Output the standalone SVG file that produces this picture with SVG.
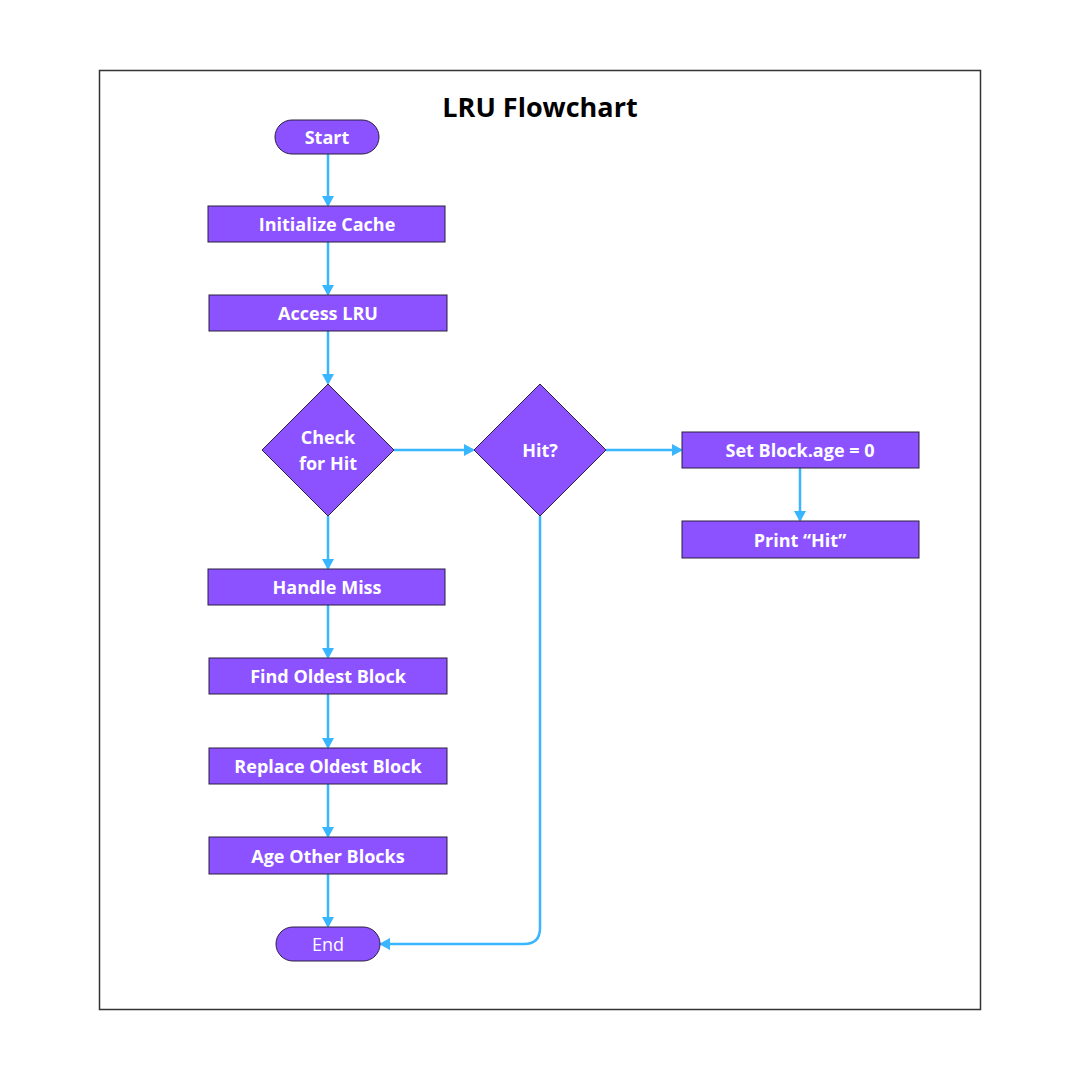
<svg xmlns="http://www.w3.org/2000/svg" width="1080" height="1080" viewBox="0 0 1080 1080">
<style>
.n{fill:#8c52ff;stroke:#2a1f40;stroke-width:1}
.t{fill:#ffffff;font-family:"Open Sans","Liberation Sans",sans-serif;font-size:18px;font-weight:700;text-anchor:middle;dominant-baseline:central}
.c{fill:none;stroke:#38b6ff;stroke-width:2.5}
</style>
<defs>
<marker id="ah" markerWidth="12" markerHeight="12" refX="9" refY="6" orient="auto" markerUnits="userSpaceOnUse" viewBox="0 0 12 12">
<path d="M0,0 L11,6 L0,12 z" fill="#38b6ff"/>
</marker>
</defs>
<rect width="1080" height="1080" fill="#ffffff"/>
<rect x="99.5" y="70.5" width="881" height="939" fill="none" stroke="#333" stroke-width="1.5"/>
<text x="540" y="106" font-family="'Open Sans','Liberation Sans',sans-serif" font-size="27" font-weight="700" text-anchor="middle" dominant-baseline="central" fill="#000">LRU Flowchart</text>
<g id="connectors">
<path class="c" d="M328,154 V205" marker-end="url(#ah)"/>
<path class="c" d="M328,242 V294" marker-end="url(#ah)"/>
<path class="c" d="M328,331 V383" marker-end="url(#ah)"/>
<path class="c" d="M394,450 H473" marker-end="url(#ah)"/>
<path class="c" d="M606,450 H681" marker-end="url(#ah)"/>
<path class="c" d="M800,468 V520" marker-end="url(#ah)"/>
<path class="c" d="M328,516 V568" marker-end="url(#ah)"/>
<path class="c" d="M328,605 V657" marker-end="url(#ah)"/>
<path class="c" d="M328,694 V747" marker-end="url(#ah)"/>
<path class="c" d="M328,784 V836" marker-end="url(#ah)"/>
<path class="c" d="M328,874 V926" marker-end="url(#ah)"/>
<path class="c" d="M540,516 V928 Q540,944 524,944 H381" marker-end="url(#ah)"/>
</g>
<g id="start"><rect class="n" x="275" y="120" width="104" height="34" rx="17"/><text class="t" x="327" y="137">Start</text></g>
<g id="init"><rect class="n" x="208" y="206" width="237" height="36"/><text class="t" x="327" y="224">Initialize Cache</text></g>
<g id="access"><rect class="n" x="209" y="295" width="238" height="36"/><text class="t" x="328" y="313">Access LRU</text></g>
<g id="check"><path class="n" d="M328,384 L394,450 L328,516 L262,450 z"/><text class="t" x="328" y="437">Check</text><text class="t" x="328" y="463">for Hit</text></g>
<g id="hit"><path class="n" d="M540,384 L606,450 L540,516 L474,450 z"/><text class="t" x="540" y="450">Hit?</text></g>
<g id="setage"><rect class="n" x="682" y="432" width="237" height="36"/><text class="t" x="800" y="450">Set Block.age = 0</text></g>
<g id="print"><rect class="n" x="682" y="521" width="237" height="37"/><text class="t" x="800" y="540">Print “Hit”</text></g>
<g id="miss"><rect class="n" x="208" y="569" width="237" height="36"/><text class="t" x="327" y="587">Handle Miss</text></g>
<g id="find"><rect class="n" x="209" y="658" width="238" height="36"/><text class="t" x="328" y="676">Find Oldest Block</text></g>
<g id="replace"><rect class="n" x="209" y="748" width="238" height="36"/><text class="t" x="328" y="766">Replace Oldest Block</text></g>
<g id="age"><rect class="n" x="209" y="837" width="238" height="37"/><text class="t" x="328" y="856">Age Other Blocks</text></g>
<g id="end"><rect class="n" x="276" y="927" width="104" height="34" rx="17"/><text class="t" x="328" y="944" style="font-weight:400">End</text></g>
</svg>
